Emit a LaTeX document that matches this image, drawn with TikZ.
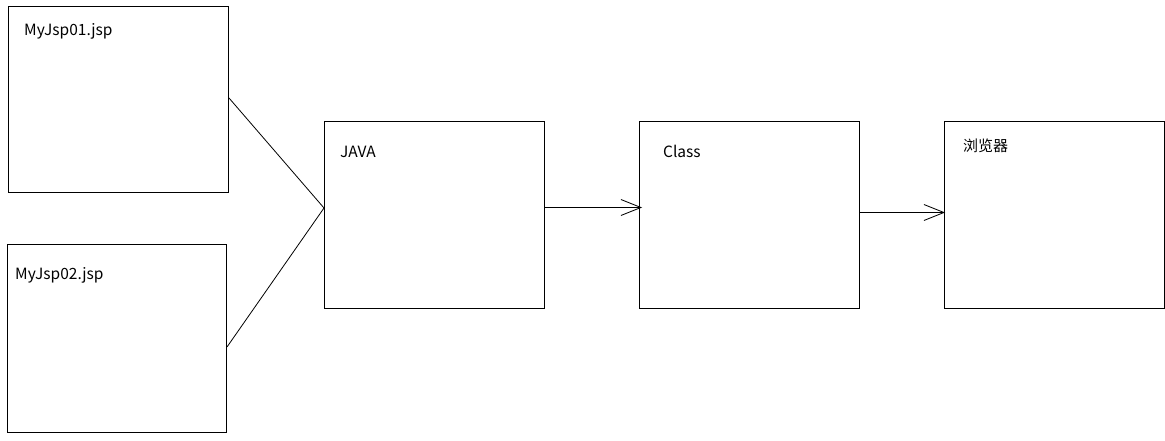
\documentclass[tikz,border=0pt]{standalone}
\usepackage{fontspec}
\setmainfont{Noto Sans CJK SC}
\usetikzlibrary{arrows.meta}
\begin{document}
\begin{tikzpicture}[x=1pt,y=-1pt,
  boxx/.style={draw=black,line width=1pt,fill=white,rectangle,inner sep=0pt,minimum width=220pt,minimum height=187pt},
  lbl/.style={anchor=base west,inner sep=0pt,font=\fontsize{15.5}{17}\selectfont},
  conn/.style={line width=0.8pt},
  arr/.style={conn,-{Straight Barb[length=20pt,width=16pt,line width=0.8pt]}}]
\useasboundingbox[fill=white] (0,0) rectangle (1165,441);
\node[boxx,minimum height=186pt] (b1) at (118.5,99.5) {};
\node[boxx,minimum width=219pt,minimum height=188pt] (b2) at (117,338.5) {};
\node[boxx] (java) at (434.5,215) {};
\node[boxx] (class) at (749.5,215) {};
\node[boxx] (br) at (1054.5,215) {};
\coordinate (b1r) at (b1.east |- 0,98);
\coordinate (b2r) at (b2.east |- 0,347);
\coordinate (javal) at (java.west |- 0,208);
\coordinate (javar) at (java.east |- 0,207.5);
\coordinate (classl) at (642,207.5);
\coordinate (classr) at (class.east |- 0,212.5);
\coordinate (brl) at (945,212.5);
\node[lbl] (t1) at (24,36) {MyJsp01.jsp};
\node[lbl] (t2) at (15,279) {MyJsp02.jsp};
\node[lbl] (t3) at (340,158) {JAVA};
\node[lbl] (t4) at (663,158) {Class};
\node[lbl,font=\fontsize{15}{17}\selectfont] (t5) at (963,152) {浏览器};
\draw[conn] (b1r) -- (javal);
\draw[conn] (b2r) -- (javal);
\draw[arr] (javar) -- (classl);
\draw[arr] (classr) -- (brl);
\end{tikzpicture}
\end{document}
